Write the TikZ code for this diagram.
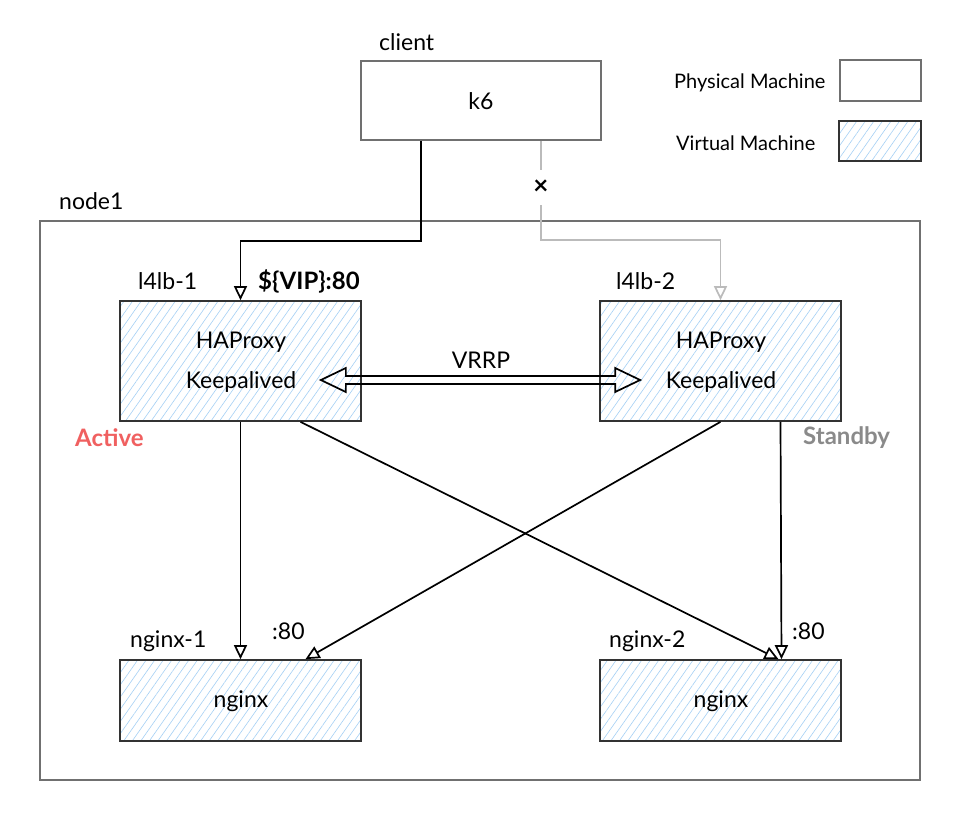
\documentclass[tikz,border=0pt]{standalone}
\usepackage{fontspec}
\setmainfont{Lato}
\usetikzlibrary{arrows.meta,patterns.meta,calc}
\definecolor{pgray}{HTML}{707070}
\definecolor{dark}{HTML}{333333}
\definecolor{hatch}{HTML}{A5D0F5}
\definecolor{lgray}{HTML}{BBBBBB}
\definecolor{activered}{HTML}{F06060}
\definecolor{sbgray}{HTML}{8A8A8A}
\tikzset{
  txt/.style={font=\fontsize{23}{27}\selectfont, inner sep=0pt, align=center},
  lbl/.style={font=\fontsize{23}{27}\selectfont, inner sep=0pt},
  blbl/.style={font=\fontsize{24}{28}\selectfont\bfseries, inner sep=0pt},
  leg/.style={font=\fontsize{20}{24}\selectfont, inner sep=0pt},
  phys/.style={draw=pgray, line width=1.5pt, rectangle, inner sep=0pt},
  virt/.style={draw=dark, line width=1.7pt, rectangle, inner sep=0pt,
    pattern={Lines[angle=55,distance=7pt,line width=0.6pt]}, pattern color=hatch},
  conn/.style={draw=black, line width=1.7pt, -{Triangle[open,length=14pt,width=13pt]}},
  gconn/.style={draw=lgray, line width=1.7pt},
  garr/.style={gconn, -{Triangle[open,length=14pt,width=13pt]}},
  vrrpline/.style={draw=black, line width=1.7pt, line join=miter},
}
\begin{document}
\begin{tikzpicture}[x=1pt,y=-1pt]
\useasboundingbox[fill=white] (0,0) rectangle (962,820);
% container
\node[phys, minimum width=880pt, minimum height=559pt] (node1) at (480,500.5) {};
\node[lbl, anchor=west] (node1lbl) at (59,201) {node1};
% client
\node[phys, minimum width=240pt, minimum height=79pt] (k6) at (481,100.5) {};
\node[txt] (k6txt) at (481,101) {k6};
\node[lbl, anchor=west] (clientlbl) at (379,42) {client};
% legend
\node[leg, anchor=west] (legphys) at (674,83) {Physical Machine};
\node[phys, minimum width=81pt, minimum height=41pt] (legphysbox) at (880.5,80.5) {};
\node[leg, anchor=west] (legvirt) at (676,143) {Virtual Machine};
\node[virt, minimum width=82pt, minimum height=40pt] (legvirtbox) at (880,141) {};
% load balancers
\node[virt, minimum width=241pt, minimum height=120pt] (l4lb1) at (240.5,361) {};
\node[txt] (l4lb1a) at (241,342) {HAProxy};
\node[txt] (l4lb1b) at (241,382) {Keepalived};
\node[lbl, anchor=west] (l4lb1lbl) at (138,281) {l4lb-1};
\node[blbl, anchor=west] (vip) at (258,281) {\$\{VIP\}:80};
\node[blbl, anchor=west, text=activered] (active) at (75,438) {Active};
\node[virt, minimum width=241pt, minimum height=120pt] (l4lb2) at (720.5,361) {};
\node[txt] (l4lb2a) at (721,342) {HAProxy};
\node[txt] (l4lb2b) at (721,382) {Keepalived};
\node[lbl, anchor=west] (l4lb2lbl) at (616,281) {l4lb-2};
\node[blbl, anchor=west, text=sbgray] (standby) at (803,438) {Standby};
% nginx
\node[virt, minimum width=241pt, minimum height=81pt] (nginx1) at (240.5,700.5) {};
\node[txt] (nginx1txt) at (241,701) {nginx};
\node[lbl, anchor=west] (nginx1lbl) at (130,641) {nginx-1};
\node[lbl, anchor=west] (p1) at (272,631) {:80};
\node[virt, minimum width=241pt, minimum height=81pt] (nginx2) at (720.5,700.5) {};
\node[txt] (nginx2txt) at (721,701) {nginx};
\node[lbl, anchor=west] (nginx2lbl) at (609,641) {nginx-2};
\node[lbl, anchor=west] (p2) at (792,631) {:80};
% client connectors
\draw[conn] ([xshift=-60pt]k6.south) -- ++(0,100) -| (l4lb1.north);
\node[inner sep=0pt, minimum height=35pt, font=\bfseries\fontsize{26}{30}\selectfont] (xmark) at (541,187.5) {×};
\draw[gconn] ([xshift=60pt]k6.south) -- (xmark.north);
\draw[garr] (xmark.south) -- ++(0,35) -| (l4lb2.north);
% VRRP
\node[lbl] (vrrp) at (481,360) {VRRP};
\coordinate (va) at ([xshift=-41pt,yshift=-19pt]l4lb1.east);
\coordinate (vb) at ([xshift=41pt,yshift=-19pt]l4lb2.west);
\draw[vrrpline] (va) -- ++(25,-12) -- ++(0,8) -- ($(vb)+(-25,-4)$) -- ++(0,-8) -- (vb)
  -- ++(-25,12) -- ++(0,-8) -- ($(va)+(25,4)$) -- ++(0,8) -- cycle;
% backend connectors
\draw[conn] (l4lb1.south) -- (nginx1.north);
\draw[conn] ([xshift=60pt]l4lb1.south) -- ([xshift=58pt]nginx2.north);
\draw[conn] (l4lb2.south) -- ([xshift=65pt]nginx1.north);
\draw[conn] ([xshift=60pt]l4lb2.south) -- ([xshift=61pt]nginx2.north);
\end{tikzpicture}
\end{document}
